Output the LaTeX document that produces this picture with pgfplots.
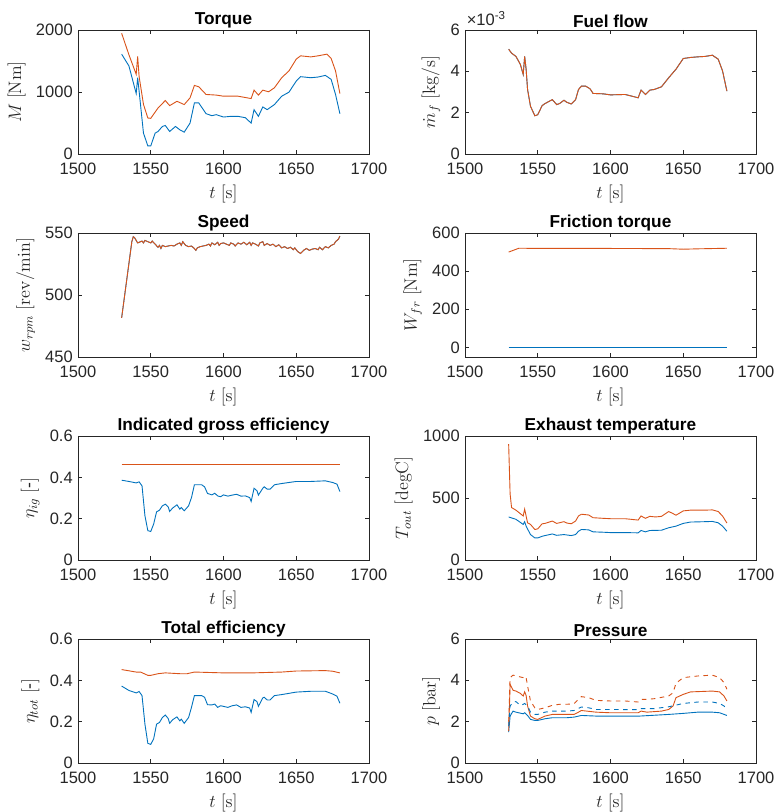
\documentclass[border=0pt]{standalone}
\usepackage[no-math]{fontspec}
\setmainfont{Liberation Sans}
\usepackage{pgfplots}
\pgfplotsset{compat=1.18}
\definecolor{mblue}{rgb}{0,0.447,0.741}
\definecolor{morange}{rgb}{0.85,0.325,0.098}
\definecolor{axgray}{rgb}{0.15,0.15,0.15}
\pgfplotsset{ml/.style={
  scale only axis, width=194pt, height=82.67pt,
  xmin=1500, xmax=1700, xtick={1500,1550,1600,1650,1700},
  tick align=inside, tick pos=both, major tick length=2.5pt,
  axis line style={axgray, line width=0.4pt},
  every tick/.style={axgray, line width=0.4pt},
  tick label style={font=\fontsize{11}{12}\selectfont, text=axgray},
  xticklabel style={yshift=-2.5pt},
  /pgf/number format/assume math mode=true,
  /pgf/number format/1000 sep={},
  scaled ticks=false,
  xlabel={$t\ [\mathrm{s}]$},
  label style={font=\fontsize{11.8}{13}\selectfont, text=axgray},
  title style={font=\bfseries\fontsize{11.5}{13}\selectfont, yshift=-8pt},
  every axis plot/.append style={line width=0.6pt, no markers},
}}
\newcommand{\dash}{\mbox{-}}
\begin{document}
\begin{tikzpicture}
\useasboundingbox (0,0) rectangle (518pt,541.33pt);
% ---------------- Torque
\begin{axis}[ml, at={(52pt,438.67pt)}, anchor=south west, title={Torque},
  ymin=0, ymax=2000, ytick={0,1000,2000}, ylabel={$M\ [\mathrm{Nm}]$}]
\addplot[mblue] coordinates {(1530,1610)(1535,1420)(1540,975)(1541,1230)(1542,1013)(1545,336)(1548,130)(1550,130)(1553,336)(1555,363)(1558,444)(1560,460)(1563,363)(1567,444)(1570,390)(1573,352)(1577,498)(1580,824)(1583,824)(1588,650)(1592,618)(1595,634)(1600,596)(1605,607)(1610,607)(1615,585)(1619,498)(1621,715)(1624,607)(1627,759)(1630,715)(1635,797)(1640,932)(1645,997)(1650,1176)(1653,1247)(1660,1230)(1665,1241)(1670,1268)(1674,1203)(1677,960)(1680,650)};
\addplot[morange] coordinates {(1530,1946)(1535,1600)(1540,1285)(1541,1572)(1542,1250)(1545,800)(1548,580)(1550,575)(1555,742)(1560,862)(1563,780)(1568,850)(1573,797)(1577,905)(1580,1106)(1583,1084)(1588,960)(1595,950)(1600,932)(1610,932)(1619,894)(1621,1030)(1624,950)(1627,1030)(1631,1003)(1635,1068)(1640,1230)(1645,1340)(1650,1530)(1653,1583)(1660,1566)(1665,1583)(1671,1610)(1674,1540)(1677,1340)(1680,975)};
\end{axis}
% ---------------- Fuel flow
\begin{axis}[ml, at={(310pt,438.67pt)}, anchor=south west, title={Fuel flow}, clip mode=individual,
  ymin=0, ymax=6, ytick={0,2,4,6}, ylabel={$\dot{m}_f\ [\mathrm{kg/s}]$}]
\addplot[mblue] coordinates {(1530,5.07)(1532,4.88)(1535,4.72)(1538,4.34)(1540,3.85)(1541,4.72)(1542,4.10)(1543,3.12)(1545,2.31)(1548,1.85)(1550,1.90)(1553,2.34)(1555,2.44)(1560,2.63)(1563,2.39)(1565,2.44)(1568,2.60)(1570,2.50)(1573,2.42)(1576,2.63)(1578,3.12)(1580,3.28)(1583,3.28)(1586,3.15)(1588,2.93)(1595,2.91)(1600,2.86)(1610,2.88)(1619,2.72)(1621,3.09)(1624,2.88)(1627,3.09)(1630,3.12)(1635,3.25)(1640,3.69)(1645,4.10)(1650,4.62)(1655,4.67)(1660,4.70)(1665,4.72)(1670,4.78)(1674,4.59)(1677,4.02)(1680,3.04)};
\addplot[morange] coordinates {(1530,5.07)(1532,4.88)(1535,4.72)(1538,4.34)(1540,3.85)(1541,4.72)(1542,4.10)(1543,3.12)(1545,2.31)(1548,1.85)(1550,1.90)(1553,2.34)(1555,2.44)(1560,2.63)(1563,2.39)(1565,2.44)(1568,2.60)(1570,2.50)(1573,2.42)(1576,2.63)(1578,3.12)(1580,3.28)(1583,3.28)(1586,3.15)(1588,2.93)(1595,2.91)(1600,2.86)(1610,2.88)(1619,2.72)(1621,3.09)(1624,2.88)(1627,3.09)(1630,3.12)(1635,3.25)(1640,3.69)(1645,4.10)(1650,4.62)(1655,4.67)(1660,4.70)(1665,4.72)(1670,4.78)(1674,4.59)(1677,4.02)(1680,3.04)};
\node[anchor=south west, inner sep=0pt, font=\fontsize{11}{12}\selectfont, text=axgray] at (rel axis cs:0,1) [yshift=2.5pt, xshift=1pt] {×10\textsuperscript{-3}};
\end{axis}
% ---------------- Speed
\begin{axis}[ml, at={(52pt,303.33pt)}, anchor=south west, title={Speed},
  ymin=450, ymax=550, ytick={450,500,550}, ylabel={$w_{rpm}\ [\mathrm{rev/min}]$}]
\addplot[mblue] coordinates {(1530,481.6)(1537,543)(1538,547)(1539,546)(1540,544)(1541,542)(1542,542.5)(1544,543.5)(1545,542)(1546,544)(1548,543)(1550,542)(1551,543.5)(1553,541)(1555,538.5)(1556,540)(1557,537.5)(1558,540)(1560,539)(1562,539.5)(1564,540)(1566,539.5)(1568,541)(1570,542)(1571,540)(1572,543)(1574,540)(1576,539)(1578,539.5)(1580,537.5)(1581,536)(1582,538)(1584,539)(1586,539.5)(1588,540)(1590,541)(1591,539.5)(1592,542)(1594,540.5)(1596,542.5)(1597,540)(1598,541.5)(1600,542)(1602,541)(1604,540)(1605,542)(1607,541)(1608,539.5)(1610,542)(1612,541)(1614,542.5)(1616,540.5)(1618,542.5)(1619,540)(1620,542)(1622,541)(1624,539.5)(1625,542)(1627,543)(1628,540)(1630,541.5)(1632,540)(1634,541)(1636,539)(1638,540.5)(1640,538)(1642,539)(1644,537.5)(1646,538.5)(1648,536.5)(1649,538)(1651,535)(1653,533.5)(1655,536)(1657,537.5)(1659,536)(1661,537)(1663,537.5)(1665,536.5)(1666,538.5)(1668,536.5)(1670,539)(1672,538)(1674,540)(1676,541)(1677,543)(1678,544)(1679,545)(1680,547.5)};
\addplot[morange] coordinates {(1530,481.6)(1537,543)(1538,547)(1539,546)(1540,544)(1541,542)(1542,542.5)(1544,543.5)(1545,542)(1546,544)(1548,543)(1550,542)(1551,543.5)(1553,541)(1555,538.5)(1556,540)(1557,537.5)(1558,540)(1560,539)(1562,539.5)(1564,540)(1566,539.5)(1568,541)(1570,542)(1571,540)(1572,543)(1574,540)(1576,539)(1578,539.5)(1580,537.5)(1581,536)(1582,538)(1584,539)(1586,539.5)(1588,540)(1590,541)(1591,539.5)(1592,542)(1594,540.5)(1596,542.5)(1597,540)(1598,541.5)(1600,542)(1602,541)(1604,540)(1605,542)(1607,541)(1608,539.5)(1610,542)(1612,541)(1614,542.5)(1616,540.5)(1618,542.5)(1619,540)(1620,542)(1622,541)(1624,539.5)(1625,542)(1627,543)(1628,540)(1630,541.5)(1632,540)(1634,541)(1636,539)(1638,540.5)(1640,538)(1642,539)(1644,537.5)(1646,538.5)(1648,536.5)(1649,538)(1651,535)(1653,533.5)(1655,536)(1657,537.5)(1659,536)(1661,537)(1663,537.5)(1665,536.5)(1666,538.5)(1668,536.5)(1670,539)(1672,538)(1674,540)(1676,541)(1677,543)(1678,544)(1679,545)(1680,547.5)};
\end{axis}
% ---------------- Friction torque
\begin{axis}[ml, at={(310pt,303.33pt)}, anchor=south west, title={Friction torque},
  ymin=-50, ymax=600, ytick={0,200,400,600}, ylabel={$W_{fr}\ [\mathrm{Nm}]$}]
\addplot[mblue] coordinates {(1530,0)(1600,0)(1680,0)};
\addplot[morange] coordinates {(1530,500)(1537,520)(1560,519)(1600,519)(1640,518)(1650,515)(1660,517)(1680,520)};
\end{axis}
% ---------------- Indicated gross efficiency
\begin{axis}[ml, at={(52pt,168pt)}, anchor=south west, title={Indicated gross efficiency},
  ymin=0, ymax=0.6, ytick={0,0.2,0.4,0.6}, ylabel={$\eta_{ig}\ [\dash]$},
  yticklabel style={/pgf/number format/fixed, /pgf/number format/precision=1}]
\addplot[mblue] coordinates {(1530,0.386)(1535,0.380)(1540,0.373)(1542,0.378)(1544,0.359)(1546,0.214)(1548,0.142)(1550,0.138)(1552,0.174)(1554,0.233)(1556,0.241)(1558,0.262)(1560,0.270)(1562,0.257)(1563,0.235)(1565,0.251)(1568,0.267)(1570,0.246)(1571,0.254)(1573,0.238)(1576,0.262)(1578,0.302)(1580,0.364)(1585,0.364)(1587,0.354)(1589,0.322)(1592,0.315)(1594,0.323)(1596,0.310)(1598,0.306)(1600,0.315)(1603,0.309)(1606,0.314)(1609,0.318)(1612,0.309)(1615,0.310)(1618,0.302)(1619,0.283)(1621,0.347)(1623,0.335)(1624,0.314)(1627,0.347)(1628,0.354)(1630,0.343)(1632,0.343)(1635,0.364)(1640,0.370)(1650,0.380)(1660,0.380)(1670,0.383)(1675,0.375)(1678,0.367)(1680,0.331)};
\addplot[morange] coordinates {(1530,0.463)(1600,0.463)(1680,0.463)};
\end{axis}
% ---------------- Exhaust temperature
\begin{axis}[ml, at={(310pt,168pt)}, anchor=south west, title={Exhaust temperature},
  ymin=0, ymax=1000, ytick={0,500,1000}, ylabel={$T_{out}\ [\mathrm{degC}]$}]
\addplot[mblue] coordinates {(1530,347)(1535,328)(1540,287)(1541,309)(1542,273)(1545,205)(1548,178)(1550,178)(1553,191)(1555,197)(1560,210)(1563,199)(1568,205)(1573,197)(1576,205)(1578,232)(1580,246)(1585,243)(1588,227)(1595,224)(1600,221)(1610,221)(1619,219)(1621,238)(1624,227)(1627,238)(1635,240)(1640,260)(1645,273)(1650,295)(1655,306)(1665,309)(1670,311)(1674,300)(1677,273)(1680,232)};
\addplot[morange] coordinates {(1530,934)(1531,533)(1532,423)(1535,402)(1540,355)(1541,410)(1542,355)(1543,300)(1545,287)(1548,246)(1550,251)(1553,292)(1555,295)(1560,314)(1563,295)(1568,309)(1570,298)(1573,292)(1576,314)(1578,355)(1580,369)(1585,363)(1588,341)(1595,336)(1600,333)(1610,333)(1619,322)(1621,355)(1624,336)(1627,352)(1631,347)(1635,352)(1640,391)(1643,374)(1645,361)(1650,396)(1655,402)(1665,402)(1670,404)(1674,391)(1677,355)(1680,298)};
\end{axis}
% ---------------- Total efficiency
\begin{axis}[ml, at={(52pt,32.67pt)}, anchor=south west, title={Total efficiency},
  ymin=0, ymax=0.6, ytick={0,0.2,0.4,0.6}, ylabel={$\eta_{tot}\ [\dash]$},
  yticklabel style={/pgf/number format/fixed, /pgf/number format/precision=1}]
\addplot[mblue] coordinates {(1530,0.372)(1535,0.351)(1540,0.339)(1542,0.346)(1544,0.326)(1546,0.188)(1548,0.095)(1550,0.090)(1552,0.117)(1554,0.188)(1556,0.196)(1558,0.220)(1560,0.232)(1562,0.215)(1563,0.192)(1565,0.209)(1568,0.223)(1570,0.204)(1571,0.212)(1573,0.192)(1576,0.220)(1578,0.269)(1580,0.326)(1585,0.326)(1587,0.318)(1589,0.282)(1592,0.281)(1594,0.285)(1596,0.269)(1598,0.277)(1600,0.274)(1603,0.269)(1606,0.277)(1609,0.281)(1612,0.269)(1615,0.272)(1618,0.266)(1619,0.245)(1621,0.307)(1623,0.297)(1624,0.274)(1627,0.315)(1628,0.318)(1630,0.305)(1632,0.305)(1635,0.326)(1640,0.331)(1650,0.343)(1660,0.347)(1670,0.347)(1675,0.334)(1678,0.323)(1680,0.289)};
\addplot[morange] coordinates {(1530,0.452)(1540,0.440)(1543,0.440)(1548,0.424)(1550,0.424)(1555,0.432)(1560,0.436)(1570,0.432)(1575,0.432)(1580,0.440)(1600,0.436)(1620,0.436)(1640,0.440)(1650,0.445)(1670,0.447)(1675,0.444)(1680,0.436)};
\end{axis}
% ---------------- Pressure
\begin{axis}[ml, at={(310pt,32.67pt)}, anchor=south west, title={Pressure},
  ymin=0, ymax=6, ytick={0,2,4,6}, ylabel={$p\ [\mathrm{bar}]$}]
\addplot[mblue] coordinates {(1530,1.49)(1531,2.27)(1533,2.51)(1535,2.46)(1540,2.38)(1541,2.43)(1543,2.30)(1545,2.11)(1548,2.06)(1550,2.06)(1555,2.14)(1560,2.19)(1570,2.19)(1575,2.22)(1580,2.30)(1590,2.27)(1620,2.27)(1640,2.35)(1650,2.40)(1660,2.46)(1670,2.46)(1675,2.43)(1680,2.30)};
\addplot[morange] coordinates {(1530,1.54)(1531,3.81)(1533,3.52)(1535,3.48)(1538,3.37)(1540,3.24)(1541,3.44)(1542,3.27)(1543,2.76)(1545,2.27)(1548,2.14)(1550,2.11)(1555,2.27)(1560,2.35)(1570,2.35)(1575,2.35)(1578,2.46)(1580,2.54)(1590,2.46)(1600,2.43)(1619,2.43)(1621,2.51)(1625,2.46)(1635,2.51)(1640,2.59)(1643,2.76)(1645,3.16)(1650,3.32)(1655,3.44)(1670,3.48)(1675,3.44)(1678,3.24)(1680,3.00)};
\addplot[mblue, dashed] coordinates {(1530,1.78)(1531,2.76)(1533,2.95)(1535,2.97)(1538,2.79)(1540,2.84)(1541,2.88)(1543,2.76)(1545,2.46)(1548,2.35)(1550,2.35)(1555,2.46)(1560,2.51)(1570,2.51)(1575,2.54)(1580,2.71)(1585,2.67)(1590,2.59)(1600,2.59)(1619,2.58)(1621,2.63)(1630,2.63)(1640,2.72)(1645,2.80)(1650,2.88)(1660,2.95)(1670,2.95)(1675,2.88)(1678,2.76)(1680,2.63)};
\addplot[morange, dashed] coordinates {(1530,2.0)(1531,4.13)(1533,4.25)(1537,4.18)(1540,4.13)(1541,4.20)(1542,4.13)(1543,3.73)(1545,3.00)(1548,2.67)(1550,2.59)(1555,2.67)(1560,2.79)(1565,2.84)(1570,2.84)(1575,2.87)(1578,3.08)(1580,3.21)(1585,3.16)(1590,3.03)(1600,3.00)(1610,3.00)(1619,2.95)(1621,3.08)(1625,3.08)(1630,3.11)(1640,3.24)(1643,3.40)(1645,3.86)(1650,4.13)(1660,4.21)(1670,4.25)(1675,4.13)(1678,3.89)(1680,3.57)};
\end{axis}
\end{tikzpicture}
\end{document}
